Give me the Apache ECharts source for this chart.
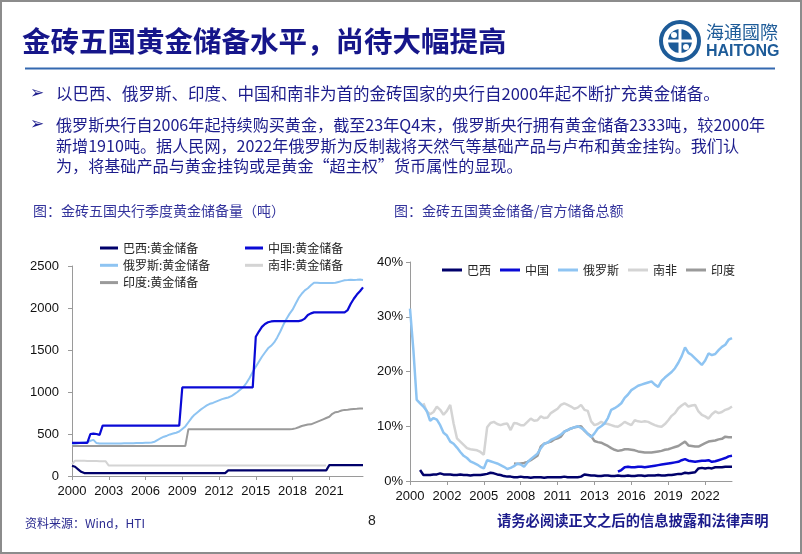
<!DOCTYPE html>
<html>
<head>
<meta charset="utf-8">
<script src="https://cdn.jsdelivr.net/npm/echarts@6/dist/echarts.min.js"></script>
<style>
html,body{margin:0;padding:0;background:#fff;}
#main{width:802px;height:554px;}
</style>
</head>
<body>
<div id="main"></div>
<script>
// ---------- Left chart: quarterly central bank gold reserves (tonnes), 2000Q1–2023Q4 ----------
const leftYearsFrom = 2000, leftYearsTo = 2023;
const leftYTicks = [0, 500, 1000, 1500, 2000, 2500];
const leftNames = ['巴西:黄金储备', '中国:黄金储备', '俄罗斯:黄金储备', '南非:黄金储备', '印度:黄金储备'];

const leftBrazil = [122,110,80,50,35,35,35,35,35,35,35,35,35,35,35,35,35,35,35,35,35,35,35,35,35,35,35,35,35,35,35,35,35,35,35,35,35,35,35,35,35,35,35,35,35,35,35,35,35,35,35,
  67,67,67,67,67,67,67,67,67,67,67,67,67,67,67,67,67,67,67,67,67,67,67,67,67,67,67,67,67,67,67,67,67,
  130,130,130,130,130,130,130,130,130,130,130,130];
const leftChina = [395,395,395,395,395,395,500,505,500,490,
  600,600,600,600,600,600,600,600,600,600,600,600,600,600,600,600,600,600,600,600,600,600,600,600,600,600,
  1054,1054,1054,1054,1054,1054,1054,1054,1054,1054,1054,1054,1054,1054,1054,1054,1054,1054,1054,1054,1054,1054,1054,1054,
  1658,1720,1775,1810,1830,1840,
  1843,1843,1843,1843,1843,1843,1843,1843,1843,
  1852,1874,1916,1936,
  1948,1948,1948,1948,1948,1948,1948,1948,1948,1948,1948,
  1975,2050,2110,2160,2200,2245];
const leftRussia = [380,385,390,395,400,405,420,430,392,386,
  386,386,387,387,388,388,388,389,389,390,390,392,392,393,395,
  397,400,408,430,450,468,480,495,505,515,530,560,590,640,690,730,760,790,815,840,860,870,885,900,915,925,935,950,975,1000,1030,1060,1110,1170,1240,1300,1360,1420,1470,1520,1550,1590,1650,1720,1800,1870,1930,1980,2050,2120,2170,2210,2235,2270,2300,2300,2298,2298,2299,2299,2298,2300,2310,2320,2330,2332,2335,2333,2335,2338,2333];
const leftSouthAfrica = [140,183,183,182,181,180,179,178,178,177,176,175,
  124,124,124,124,124,124,124,124,124,124,124,124,124,124,124,124,124,124,124,124,124,124,124,124,124,124,124,124,124,124,124,124,124,124,124,124,124,124,124,124,124,124,124,124,124,124,124,124,124,124,124,124,124,124,124,124,124,124,124,124,124,124,124,124,124,124,124,124,124,124,124,124];
const leftIndia = [358,358,358,358,358,358,358,358,358,358,358,358,358,358,358,358,358,358,358,358,358,358,358,358,358,358,358,358,358,358,358,358,358,358,358,358,358,358,
  558,558,558,558,558,558,558,558,558,558,558,558,558,558,558,558,558,558,558,558,558,558,558,558,558,558,558,558,558,558,558,558,558,558,
  560,567,580,595,605,612,615,630,645,660,675,690,705,740,760,766,780,787,790,795,798,800,803,805];

// ---------- Right chart: gold reserves / total official reserves (%), 2000Q1–2024Q1 ----------
const rightYFrom = 2000, rightYTo = 2024, rightLastQuarter = 1;
const rightYTicks = [0, 10, 20, 30, 40];
const rightNames = ['巴西', '中国', '俄罗斯', '南非', '印度'];

const rightBrazil = [null,null,null,
  2.0,1.1,1.1,1.1,1.2,1.2,1.4,1.2,1.2,1.2,1.1,1.1,1.2,1.1,1.1,1.0,1.1,1.1,1.1,1.2,1.3,1.5,1.4,1.2,1.1,0.9,0.8,0.8,
  0.7,0.7,0.8,0.7,0.7,0.6,0.7,0.7,0.7,0.6,0.7,0.7,0.7,0.7,0.7,0.8,0.7,0.7,0.7,0.7,0.8,
  1.2,1.1,1.0,1.0,0.9,
  0.9,1.0,1.0,0.9,0.9,1.0,0.9,0.9,1.0,0.9,0.9,1.0,1.0,0.9,1.0,1.0,1.0,1.1,1.0,1.0,1.1,1.1,
  1.2,1.3,1.3,1.5,1.4,1.5,1.6,
  2.3,2.4,2.3,2.4,2.3,2.5,2.5,2.5,2.6,2.6,2.6];
const rightChina = [null,null,null,null,null,null,null,null,null,null,null,null,null,null,null,null,null,null,null,null,null,null,null,null,null,null,null,null,null,null,null,null,null,null,null,null,null,null,null,null,null,null,null,null,null,null,null,null,null,null,null,null,null,null,null,null,null,null,null,null,null,null,
  1.7,2.0,2.5,2.6,2.5,2.5,2.6,2.6,2.5,2.6,2.7,2.8,2.9,3.0,3.1,3.2,3.3,3.4,3.5,3.8,4.0,3.7,3.6,3.5,3.6,3.7,3.7,3.8,3.5,3.6,3.8,4.0,4.2,4.5,4.6];
const rightRussia = [31.5,24.0,14.8,14.2,13.6,12.8,11.0,11.5,11.2,10.2,8.8,8.3,7.2,6.8,6.1,5.3,4.6,4.2,3.6,3.3,3.0,2.6,2.3,3.8,3.6,3.4,3.2,2.9,2.6,2.2,2.4,2.7,3.2,3.0,2.6,3.4,4.0,4.5,5.0,6.0,6.8,7.0,7.5,7.8,8.1,8.5,9.0,9.3,9.6,9.8,10.0,9.7,9.3,8.6,8.0,8.7,9.6,10.0,10.5,11.5,13.0,13.3,13.7,14.2,15.2,15.8,16.6,17.0,17.4,17.6,17.8,18.0,18.2,17.6,17.2,18.3,18.9,19.4,19.9,20.6,21.6,22.8,24.4,23.4,23.0,22.4,21.8,21.2,22.0,23.3,23.0,23.2,23.9,24.5,24.9,25.8,26.1];
const rightSouthAfrica = [null,null,null,null,
  14.2,12.7,12.2,12.6,13.6,13.0,12.1,12.8,13.9,10.5,
  7.8,7.2,6.6,6.0,5.8,5.7,5.6,5.3,4.8,9.8,
  10.6,10.8,10.4,10.2,10.4,10.5,9.3,10.6,10.5,10.2,
  10.2,10.8,11.4,11.0,11.1,11.8,11.5,11.6,12.4,12.8,
  13.2,13.9,14.2,13.9,13.6,13.2,13.4,13.9,13.0,12.8,
  10.9,10.2,10.4,10.8,10.5,10.4,10.2,10.0,9.9,10.3,
  10.8,10.5,10.2,11.1,10.9,10.8,10.9,10.8,10.5,10.2,
  10.0,9.9,10.4,11.1,11.9,12.4,13.3,13.8,14.2,13.6,
  13.8,13.9,12.7,12.1,11.8,11.4,12.2,12.7,12.4,12.6,
  13.0,13.2,13.6];
const rightIndia = [null,null,null,null,null,null,null,null,null,null,null,null,null,null,null,null,null,null,null,null,null,null,null,null,null,null,null,null,null,null,null,
  3.2,3.1,3.2,3.3,3.5,3.8,4.2,4.6,6.3,6.8,
  7.0,7.2,7.6,7.8,8.1,9.0,9.3,9.6,9.8,9.9,
  10.0,9.2,8.6,8.2,7.3,7.1,7.0,6.7,6.4,6.0,
  5.7,5.5,5.6,5.8,5.8,5.7,5.6,5.4,5.3,5.2,
  5.2,5.2,5.3,5.4,5.5,5.7,5.8,6.0,6.2,6.4,
  6.8,7.2,6.5,6.4,6.3,6.3,6.6,6.9,7.2,7.3,
  7.4,7.6,7.7,8.1,8.0,8.0];

// ---------- category labels ----------
const leftQuarters = [];
for (let y = leftYearsFrom; y <= leftYearsTo; y++) for (let q = 1; q <= 4; q++) leftQuarters.push(y + 'Q' + q);
const rightQuarters = [];
for (let y = rightYFrom; y <= rightYTo; y++) for (let q = 1; q <= 4; q++) {
  if (y === rightYTo && q > rightLastQuarter) break;
  rightQuarters.push(y + 'Q' + q);
}

const colors = { brazil: '#00006a', china: '#0a0ad6', russia: '#8ec4f2', sa: '#d4d4d4', india: '#9a9a9a' };
const navy = '#1c1c8c';
const cjk = '"Noto Sans CJK SC", sans-serif';
const latin = '"Liberation Sans", Arial, sans-serif';

const chart = echarts.init(document.getElementById('main'), null, { renderer: 'canvas' });

function txt(text, x, y, size, fill, extra) {
  return { type: 'text', style: Object.assign({ text: text, x: x, y: y, fontSize: size, fontFamily: cjk, fill: fill, verticalAlign: 'middle' }, extra || {}) };
}

const logoBlue = '#1d5b98';
const graphics = [
  { type: 'rect', shape: { x: 1, y: 1, width: 800, height: 552 }, style: { fill: 'none', stroke: '#8c8c8c', lineWidth: 2 }, z: 100 },
  txt('金砖五国黄金储备水平，尚待大幅提高', 22, 41, 28.5, '#16168a', { fontWeight: 'bold' }),
  { type: 'line', shape: { x1: 25, y1: 68.5, x2: 775, y2: 68.5 }, style: { stroke: '#3469b0', lineWidth: 2 } },
  // logo
  { type: 'circle', shape: { cx: 680, cy: 41, r: 19 }, style: { fill: 'none', stroke: logoBlue, lineWidth: 4 } },
  { type: 'circle', shape: { cx: 680, cy: 41, r: 12 }, style: { fill: logoBlue } },
  { type: 'rect', shape: { x: 678.5, y: 27, width: 3, height: 28 }, style: { fill: '#fff' } },
  { type: 'rect', shape: { x: 666, y: 39.5, width: 28, height: 3 }, style: { fill: '#fff' } },
  { type: 'circle', shape: { cx: 674, cy: 35, r: 3 }, style: { fill: '#fff' } },
  { type: 'circle', shape: { cx: 686, cy: 47, r: 3 }, style: { fill: '#fff' } },
  txt('海通國際', 706, 32, 18, logoBlue),
  txt('HAITONG', 706, 52, 16, logoBlue, { fontFamily: latin, fontWeight: 'bold' }),
  // bullets
  txt('➢', 30, 94, 17, navy, { fontFamily: '"DejaVu Sans"' }),
  txt('以巴西、俄罗斯、印度、中国和南非为首的金砖国家的央行自2000年起不断扩充黄金储备。', 56, 94, 16.5, navy),
  txt('➢', 30, 125, 17, navy, { fontFamily: '"DejaVu Sans"' }),
  txt('俄罗斯央行自2006年起持续购买黄金，截至23年Q4末，俄罗斯央行拥有黄金储备2333吨，较2000年', 56, 125, 16.1, navy),
  txt('新增1910吨。据人民网，2022年俄罗斯为反制裁将天然气等基础产品与卢布和黄金挂钩。我们认', 56, 146, 16.1, navy),
  txt('为，将基础产品与黄金挂钩或是黄金“超主权”货币属性的显现。', 56, 166, 16.1, navy),
  // chart titles
  txt('图：金砖五国央行季度黄金储备量（吨）', 33, 211, 14, '#33339c'),
  txt('图：金砖五国黄金储备/官方储备总额', 394, 211, 14, '#33339c'),
  // footer
  txt('资料来源：Wind，HTI', 25, 523, 12, '#2a2a90'),
  txt('8', 368, 521, 14, '#222', { fontFamily: latin }),
  txt('请务必阅读正文之后的信息披露和法律声明', 497, 521, 14.3, navy, { fontWeight: 'bold' })
];

function lineSeries(name, data, color, xi, width) {
  return {
    name: name, type: 'line', xAxisIndex: xi, yAxisIndex: xi, data: data,
    showSymbol: false, symbol: 'none', connectNulls: false,
    lineStyle: { color: color, width: width }, itemStyle: { color: color },
    emphasis: { disabled: true }, animation: false
  };
}

const legendText = { fontSize: 12, fontFamily: cjk, color: '#222', lineHeight: 14 };

const option = {
  backgroundColor: '#ffffff',
  animation: false,
  graphic: graphics,
  grid: [
    { left: 72, right: 439, top: 266, bottom: 78, containLabel: false },
    { left: 410, right: 70, top: 262, bottom: 73, containLabel: false }
  ],
  legend: [
    { data: [leftNames[0], leftNames[2], leftNames[4]], orient: 'vertical', left: 95, top: 236, itemGap: 3.3,
      itemWidth: 18, itemHeight: 3, icon: 'rect', textStyle: legendText },
    { data: [leftNames[1], leftNames[3]], orient: 'vertical', left: 240, top: 236, itemGap: 3.3,
      itemWidth: 18, itemHeight: 3, icon: 'rect', textStyle: legendText },
    { data: rightNames, orient: 'horizontal', left: 437, top: 258, itemGap: 9,
      itemWidth: 20, itemHeight: 3, icon: 'rect', textStyle: legendText }
  ],
  xAxis: [
    { type: 'category', gridIndex: 0, data: leftQuarters, boundaryGap: false,
      axisLine: { lineStyle: { color: '#9a9a9a', width: 1 } },
      axisTick: { show: true, interval: 11, length: 4, lineStyle: { color: '#9a9a9a' } },
      axisLabel: { interval: 11, margin: 9, fontSize: 13, fontFamily: latin, color: '#111', formatter: v => v.slice(0, 4) },
      splitLine: { show: false } },
    { type: 'category', gridIndex: 1, data: rightQuarters, boundaryGap: false,
      axisLine: { lineStyle: { color: '#9a9a9a', width: 1 } },
      axisTick: { show: true, interval: 10, length: 4, lineStyle: { color: '#9a9a9a' } },
      axisLabel: { interval: 10, margin: 9, fontSize: 13, fontFamily: latin, color: '#111', formatter: v => v.slice(0, 4) },
      splitLine: { show: false } }
  ],
  yAxis: [
    { type: 'value', gridIndex: 0, min: leftYTicks[0], max: leftYTicks[leftYTicks.length - 1], interval: leftYTicks[1] - leftYTicks[0],
      axisLine: { show: true, lineStyle: { color: '#9a9a9a', width: 1 } },
      axisTick: { show: true, length: 4, lineStyle: { color: '#9a9a9a' } },
      axisLabel: { margin: 13, fontSize: 13, fontFamily: latin, color: '#111', formatter: v => String(v) },
      splitLine: { show: false } },
    { type: 'value', gridIndex: 1, min: rightYTicks[0], max: rightYTicks[rightYTicks.length - 1], interval: rightYTicks[1] - rightYTicks[0],
      axisLine: { show: true, lineStyle: { color: '#9a9a9a', width: 1 } },
      axisTick: { show: true, length: 4, lineStyle: { color: '#9a9a9a' } },
      axisLabel: { margin: 7, fontSize: 13, fontFamily: latin, color: '#111', formatter: v => v + '%' },
      splitLine: { show: false } }
  ],
  series: [
    lineSeries(leftNames[3], leftSouthAfrica, colors.sa, 0, 2),
    lineSeries(leftNames[4], leftIndia, colors.india, 0, 2),
    lineSeries(leftNames[2], leftRussia, colors.russia, 0, 2),
    lineSeries(leftNames[0], leftBrazil, colors.brazil, 0, 2.2),
    lineSeries(leftNames[1], leftChina, colors.china, 0, 2.2),
    lineSeries(rightNames[3], rightSouthAfrica, colors.sa, 1, 2.5),
    lineSeries(rightNames[4], rightIndia, colors.india, 1, 2.5),
    lineSeries(rightNames[2], rightRussia, colors.russia, 1, 2.5),
    lineSeries(rightNames[1], rightChina, colors.china, 1, 2.5),
    lineSeries(rightNames[0], rightBrazil, colors.brazil, 1, 2.5)
  ]
};
chart.setOption(option);
</script>
</body>
</html>
